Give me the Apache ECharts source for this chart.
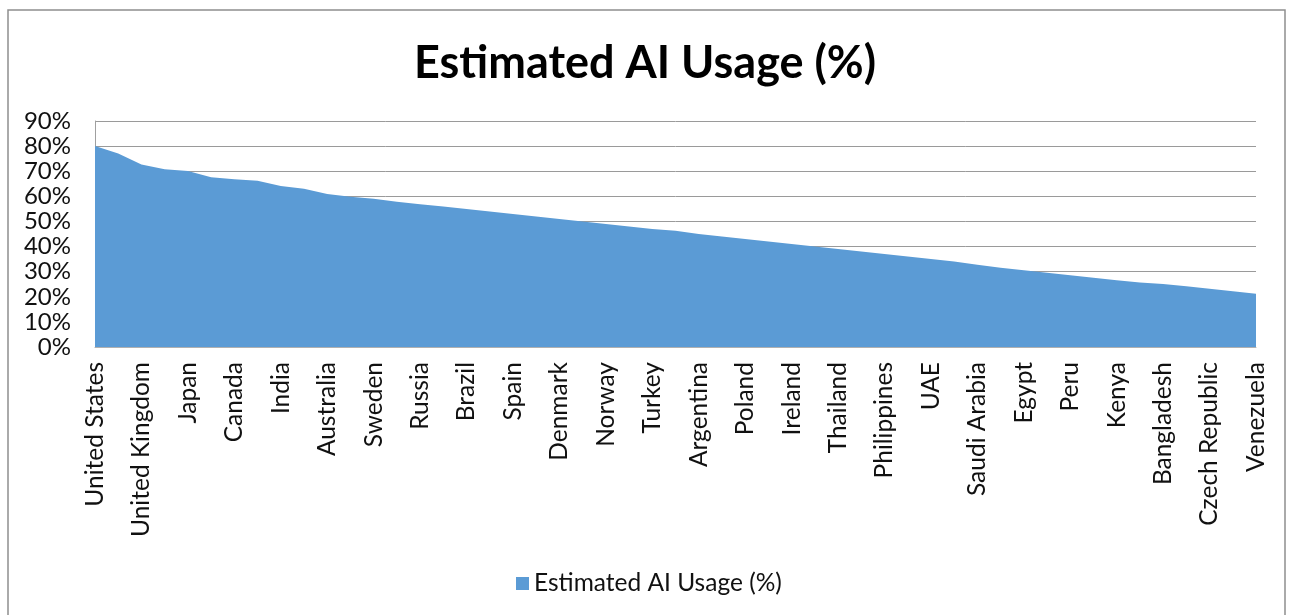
<!DOCTYPE html>
<html>
<head>
<meta charset="utf-8">
<script src="https://cdn.jsdelivr.net/npm/echarts@6/dist/echarts.min.js"></script>
<style>
html,body{margin:0;padding:0;background:#fff;}
#chart{width:1290px;height:615px;}
</style>
</head>
<body>
<div id="chart"></div>
<script>
const countries = [
  "United States","China","United Kingdom","Germany","Japan","South Korea","Canada","France",
  "India","Singapore","Australia","Netherlands","Sweden","Israel","Russia","Switzerland",
  "Brazil","Italy","Spain","Mexico","Denmark","Finland","Norway","Belgium","Turkey",
  "Austria","Argentina","Indonesia","Poland","New Zealand","Ireland","Portugal","Thailand",
  "Malaysia","Philippines","Vietnam","UAE","South Africa","Saudi Arabia","Nigeria","Egypt",
  "Colombia","Peru","Chile","Kenya","Pakistan","Bangladesh","Greece","Czech Republic",
  "Ukraine","Venezuela"
];
const usage = [
  80, 77.1, 72.7, 70.8, 70.1, 67.6, 66.8, 66.2, 64.1, 63.0,
  60.9, 59.8, 59.0, 57.8, 56.8, 56.0, 55.0, 54.0, 53.0, 52.0,
  51.0, 50.0, 49.0, 48.0, 47.0, 46.3, 45.0, 44.0, 43.0, 42.0,
  41.0, 40.0, 39.0, 38.0, 37.0, 36.0, 35.0, 34.0, 32.8, 31.6,
  30.6, 29.6, 28.6, 27.6, 26.6, 25.7, 25.1, 24.2, 23.2, 22.2, 21.2
];
const yTicks = [0, 10, 20, 30, 40, 50, 60, 70, 80, 90];
const seriesName = "Estimated AI Usage (%)";
const chartTitle = "Estimated AI Usage (%)";

const font = "Lato, 'Open Sans', sans-serif";
const chart = echarts.init(document.getElementById('chart'));
chart.setOption({
  animation: false,
  backgroundColor: '#ffffff',
  title: {
    text: chartTitle,
    left: 'center',
    top: 36,
    textStyle: { fontFamily: font, fontWeight: 'bold', fontSize: 45, color: '#000000' }
  },
  legend: {
    left: 511,
    top: 566,
    icon: 'rect',
    itemWidth: 13,
    itemHeight: 13,
    itemGap: 8,
    textStyle: { fontFamily: font, fontSize: 24.5, color: '#111111' },
    data: [seriesName]
  },
  grid: { left: 95, right: 34, top: 121, bottom: 268, containLabel: false },
  xAxis: {
    type: 'category',
    data: countries,
    boundaryGap: false,
    axisLine: { show: true, lineStyle: { color: '#b0b0b0', width: 1 } },
    axisTick: { show: false },
    axisLabel: {
      interval: 1,
      rotate: 90,
      margin: 15,
      fontFamily: font,
      fontSize: 24.5,
      color: '#111111'
    },
    splitLine: { show: false }
  },
  yAxis: {
    type: 'value',
    min: yTicks[0],
    max: yTicks[yTicks.length - 1],
    interval: 10,
    axisLine: { show: true, lineStyle: { color: '#a0a0a0', width: 1 } },
    axisTick: { show: false },
    axisLabel: {
      formatter: '{value}%',
      margin: 24,
      fontFamily: font,
      fontSize: 24,
      color: '#111111'
    },
    splitLine: { show: true, lineStyle: { color: '#9a9a9a', width: 1 } }
  },
  series: [{
    name: seriesName,
    type: 'line',
    data: usage,
    showSymbol: false,
    symbol: 'none',
    smooth: false,
    lineStyle: { width: 0, color: '#5B9BD5' },
    itemStyle: { color: '#5B9BD5' },
    areaStyle: { color: '#5B9BD5', opacity: 1 }
  }],
  graphic: [{
    type: 'rect',
    shape: { x: 8, y: 10, width: 1277, height: 700 },
    style: { fill: 'none', stroke: '#8f8f8f', lineWidth: 1.5 },
    silent: true
  }]
});
</script>
</body>
</html>
